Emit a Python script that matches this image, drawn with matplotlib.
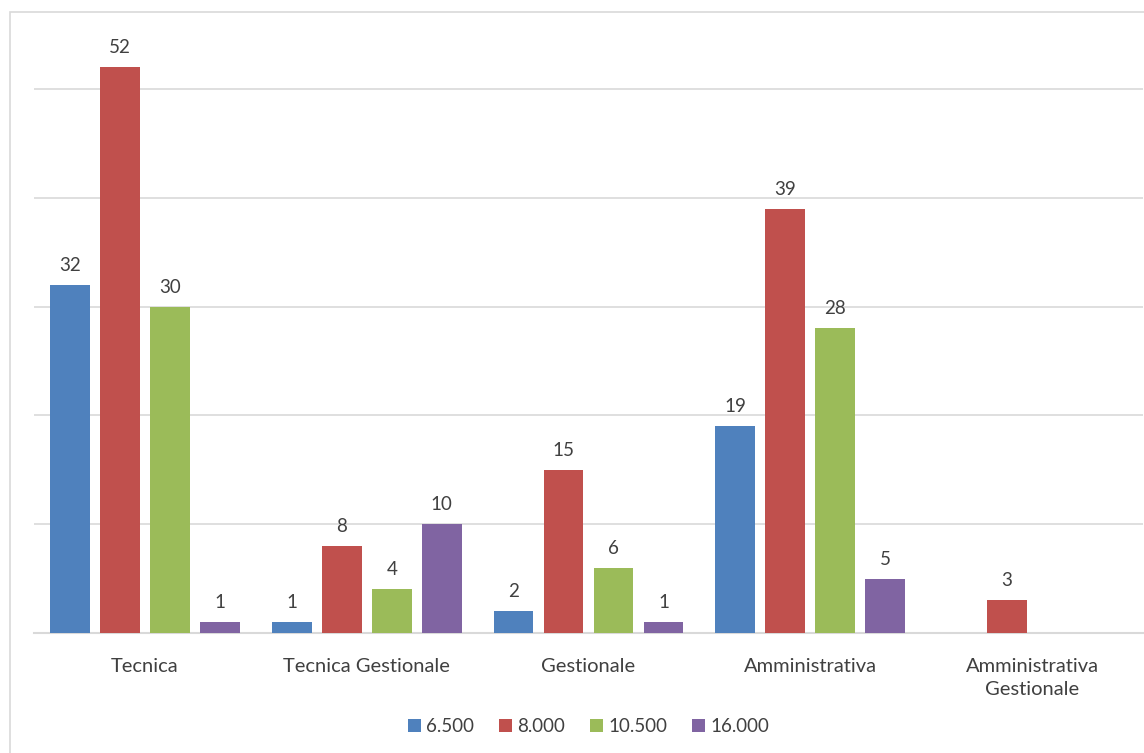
import numpy as np
import matplotlib
matplotlib.use("Agg")
import matplotlib.pyplot as plt
from matplotlib.patches import Rectangle

# Categorie e serie (nan = nessun valore)
categorie = ["Tecnica", "Tecnica Gestionale", "Gestionale", "Amministrativa",
             "Amministrativa\nGestionale"]
serie = ["6.500", "8.000", "10.500", "16.000"]
val_6500 = [32, 1, 2, 19, np.nan]
val_8000 = [52, 8, 15, 39, 3]
val_10500 = [30, 4, 6, 28, np.nan]
val_16000 = [1, 10, 1, 5, np.nan]
colori = ["#4F81BD", "#C0504D", "#9BBB59", "#8064A2"]

plt.rcParams["font.family"] = ["Lato", "DejaVu Sans"]
testo = "#404040"

W, H = 1144, 753
fig = plt.figure(figsize=(W / 100, H / 100), dpi=100)
ax = fig.add_axes([34 / W, (H - 633) / H, (1143 - 34) / W, (633 - 12) / H])

# cornice del grafico (visibile solo a sinistra e in alto)
fig.patches.append(Rectangle((10 / W, -0.1), 1.2, (H - 12) / H + 0.1,
                             transform=fig.transFigure, fill=False,
                             edgecolor="#D9D9D9", linewidth=1.2))

x = np.arange(len(categorie))
passo = 0.2255
larg = 0.18
for i, (nome, valori) in enumerate(zip(serie, [val_6500, val_8000, val_10500, val_16000])):
    pos = x + (i - 1.5) * passo
    ax.bar(pos, valori, width=larg, color=colori[i], label=nome, zorder=3)
    for p, v in zip(pos, valori):
        if not np.isnan(v):
            ax.annotate(f"{v:g}", (p, v), xytext=(0, 8), textcoords="offset points",
                        ha="center", va="bottom", fontsize=13.5, color=testo)

ax.set_xlim(-0.5, len(categorie) - 0.5)
ax.set_ylim(0, 57.1)
ax.set_yticks(np.arange(0, 51, 10))
ax.set_yticklabels([])
ax.tick_params(axis="y", length=0)
ax.grid(axis="y", color="#D9D9D9", linewidth=1.2, zorder=0)
for lato in ["top", "right", "left"]:
    ax.spines[lato].set_visible(False)
ax.spines["bottom"].set_color("#D9D9D9")
ax.spines["bottom"].set_linewidth(1.5)

ax.set_xticks(x)
ax.set_xticklabels(categorie, fontsize=14.5, color=testo, linespacing=1.45, va="top")
ax.tick_params(axis="x", length=0, pad=18)

ax.legend(loc="center", bbox_to_anchor=(0.5, -0.15), ncol=4, frameon=False,
          fontsize=13.5, handlelength=0.7, handleheight=0.7, handletextpad=0.3,
          columnspacing=1.3, labelcolor=testo)

fig.savefig("out.png", dpi=100)
